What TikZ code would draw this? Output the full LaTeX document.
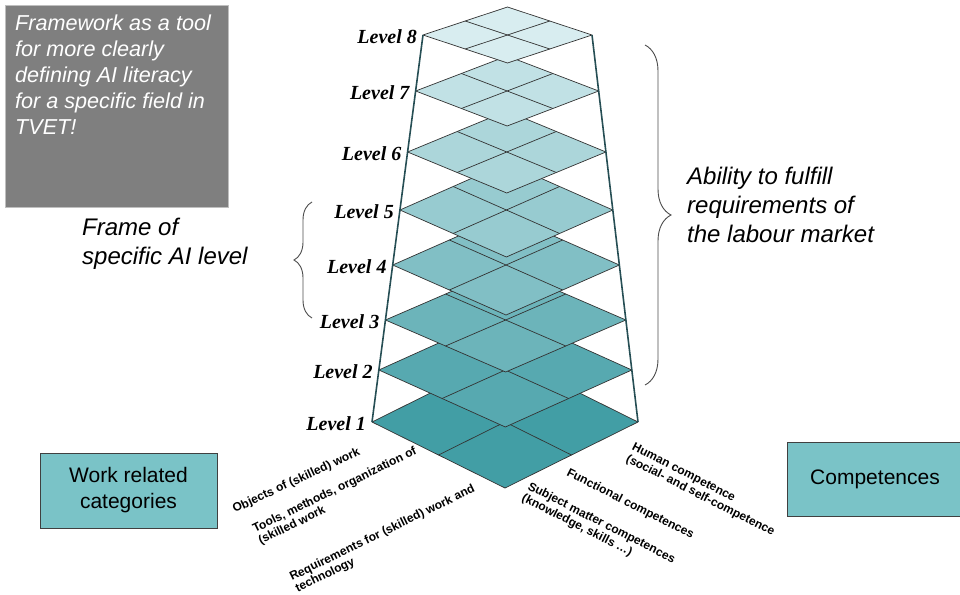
\documentclass[tikz,border=0pt]{standalone}
\usepackage{fontspec}
\setmainfont{Liberation Sans}
\newfontfamily\levelfont{Liberation Serif}
\usetikzlibrary{calc, decorations.pathreplacing}

\definecolor{lvlbase}{RGB}{66,158,165}
\definecolor{lvltop}{RGB}{216,237,240}
\definecolor{boxteal}{RGB}{122,195,199}
\definecolor{notegray}{RGB}{127,127,127}
\definecolor{framedark}{RGB}{38,78,84}

\begin{document}
\begin{tikzpicture}[
    x=1pt, y=-1pt,
    tile/.style={draw=black!80, line width=0.7pt, line join=round},
    gridline/.style={draw=black!80, line width=0.7pt},
    frameline/.style={draw=framedark, line width=1.6pt},
    lvllabel/.style={font=\levelfont\bfseries\itshape\fontsize{20}{22}\selectfont, anchor=east, inner sep=0pt},
    catbox/.style={rectangle, draw=black!75, line width=0.9pt, fill=boxteal, align=center, font=\fontsize{21}{26}\selectfont},
    notebox/.style={rectangle, fill=notegray, draw=black!25, minimum width=223pt, minimum height=202pt},
    notetext/.style={anchor=north west, align=left, inner sep=0pt, text=white, font=\itshape\fontsize{21.6}{26}\selectfont},
    bigtext/.style={anchor=north west, align=left, inner sep=0pt, font=\itshape\fontsize{24}{29}\selectfont},
    axislabel/.style={anchor=north west, align=left, inner sep=0pt, font=\bfseries\fontsize{12}{13}\selectfont},
    bracket/.style={draw=black!70, line width=0.9pt, decorate}
]

\useasboundingbox (0,0) rectangle (960,594);

\foreach \i/\yc/\hh in {1/422/66, 2/370/57, 3/320/52, 4/265/50, 5/210/47, 6/152/41, 7/91/35, 8/35/28}{
  \pgfmathsetmacro\lx{372+(422-\yc)/387*51}
  \pgfmathsetmacro\rx{638-(422-\yc)/387*46}
  \pgfmathsetmacro\mx{(\lx+\rx)/2}
  \pgfmathtruncatemacro\lvlmix{(\i-1)*100/7}
  \coordinate (w\i) at (\lx,\yc);
  \coordinate (e\i) at (\rx,\yc);
  \coordinate (n\i) at (\mx,\yc-\hh);
  \coordinate (s\i) at (\mx,\yc+\hh);
  \filldraw[tile, fill=lvltop!\lvlmix!lvlbase] (w\i) -- (n\i) -- (e\i) -- (s\i) -- cycle;
  \draw[gridline] ($(w\i)!0.5!(n\i)$) -- ($(e\i)!0.5!(s\i)$);
  \draw[gridline] ($(n\i)!0.5!(e\i)$) -- ($(s\i)!0.5!(w\i)$);
  \node[lvllabel] (lab\i) at ($(w\i)+(-6,2)$) {Level \i};
}

\draw[frameline] (w1) -- (w8);
\draw[frameline] (e1) -- (e8);

\draw[bracket, decoration={brace, amplitude=26pt}] (645,45) -- (645,385);
\draw[bracket, decoration={brace, amplitude=18pt}] (312,318) -- (312,202);

\node[notebox] (note) at (116.5,106) {};
\node[notetext] (notetext) at (15,15) {Framework as a tool\\for more clearly\\defining AI literacy\\for a specific field in\\TVET!};

\node[bigtext] (frametext) at (82,218) {Frame of\\specific AI level};
\node[bigtext] (abilitytext) at (687,167) {Ability to fulfill\\requirements of\\the labour market};

\node[catbox, minimum width=177pt, minimum height=75pt] (workbox) at (128.5,490.5) {Work related\\categories};
\node[catbox, minimum width=176pt, minimum height=74pt] (compbox) at (875,479) {Competences};

\node[axislabel, rotate=25] (objects) at (231,505) {Objects of (skilled) work};
\node[axislabel, rotate=26] (tools) at (251,525) {Tools, methods, organization of\\(skilled work};
\node[axislabel, rotate=26] (requirements) at (288,573) {Requirements for (skilled) work and\\technology};

\node[axislabel, rotate=-27] (human) at (635,442) {Human competence\\(social- and self-competence};
\node[axislabel, rotate=-27] (functional) at (570,467) {Functional competences};
\node[axislabel, rotate=-27] (subject) at (531,481) {Subject matter competences\\(knowledge, skills …)};

\end{tikzpicture}
\end{document}
